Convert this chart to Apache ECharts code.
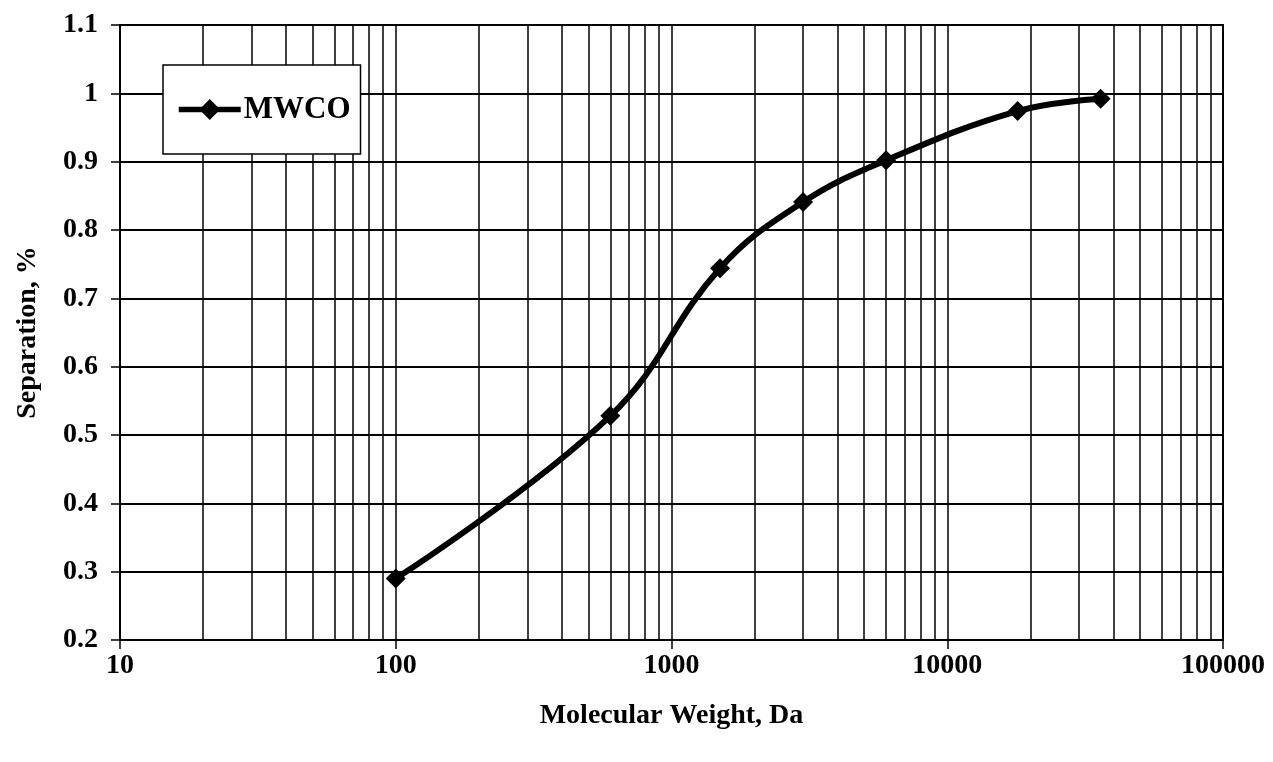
<!DOCTYPE html>
<html>
<head>
<meta charset="utf-8">
<script src="https://cdn.jsdelivr.net/npm/echarts@6/dist/echarts.min.js"></script>
<style>html,body{margin:0;padding:0;background:#fff}#c{width:1273px;height:762px}</style>
</head>
<body>
<div id="c"></div>
<script>
var seriesName = 'MWCO';
var molecularWeight = [100, 600, 1500, 3000, 6000, 18000, 36000];
var separation = [0.29, 0.528, 0.744, 0.841, 0.902, 0.974, 0.992];
var minorGridValues = [20,30,40,50,60,70,80,90,200,300,400,500,600,700,800,900,2000,3000,4000,5000,6000,7000,8000,9000,20000,30000,40000,50000,60000,70000,80000,90000];
var xName = 'Molecular Weight, Da';
var yName = 'Separation, %';

var FONT = 'Liberation Serif';
var chart = echarts.init(document.getElementById('c'));
chart.setOption({
  animation: false,
  grid: {left: 120, right: 50, top: 25, bottom: 122, show: true, borderColor: '#000', borderWidth: 2, backgroundColor: 'transparent'},
  legend: {
    left: 163, top: 65,
    orient: 'vertical',
    backgroundColor: '#fff',
    borderColor: '#000', borderWidth: 1.5,
    padding: [29, 10, 29, 13],
    itemWidth: 62, itemHeight: 26, itemGap: 0,
    itemStyle: {color: '#000'},
    lineStyle: {color: '#000', width: 5.5},
    textStyle: {fontFamily: FONT, fontWeight: 'bold', fontSize: 31, color: '#000', padding: [0,0,0,-2]},
    data: [seriesName]
  },
  xAxis: {
    type: 'log', logBase: 10, min: 10, max: 100000,
    name: xName, nameLocation: 'middle', nameGap: 62,
    nameTextStyle: {fontFamily: FONT, fontWeight: 'bold', fontSize: 28, color: '#000'},
    axisLine: {lineStyle: {color: '#000', width: 2}},
    axisTick: {show: true, length: 9, inside: false, lineStyle: {color: '#000', width: 1.5}},
    axisLabel: {fontFamily: FONT, fontWeight: 'bold', fontSize: 28, color: '#000', margin: 12,
      formatter: function (v) { return String(Math.round(v)); }},
    splitLine: {show: true, lineStyle: {color: '#000', width: 1.5}},
    minorTick: {show: false},
    minorSplitLine: {show: false}
  },
  yAxis: {
    type: 'value', min: 0.2, max: 1.1, interval: 0.1,
    name: yName, nameLocation: 'middle', nameGap: 78,
    nameTextStyle: {fontFamily: FONT, fontWeight: 'bold', fontSize: 28, color: '#000'},
    axisLine: {show: true, lineStyle: {color: '#000', width: 2}},
    axisTick: {show: true, length: 9, lineStyle: {color: '#000', width: 1.5}},
    axisLabel: {fontFamily: FONT, fontWeight: 'bold', fontSize: 28, color: '#000', margin: 22,
      formatter: function (v) { return String(Math.round(v * 10) / 10); }},
    splitLine: {show: true, lineStyle: {color: '#000', width: 2}}
  },
  series: [{
    name: seriesName,
    type: 'line',
    data: molecularWeight.map(function (x, i) { return [x, separation[i]]; }),
    smooth: 0.4,
    symbol: 'diamond', symbolSize: 20,
    lineStyle: {color: '#000', width: 6},
    itemStyle: {color: '#000'},
    z: 5,
    markLine: {
      silent: true, symbol: 'none', animation: false,
      label: {show: false},
      lineStyle: {color: '#000', width: 1.5, type: 'solid'},
      z: 1,
      data: minorGridValues.map(function (v) { return {xAxis: v}; })
    }
  }]
});
</script>
</body>
</html>
